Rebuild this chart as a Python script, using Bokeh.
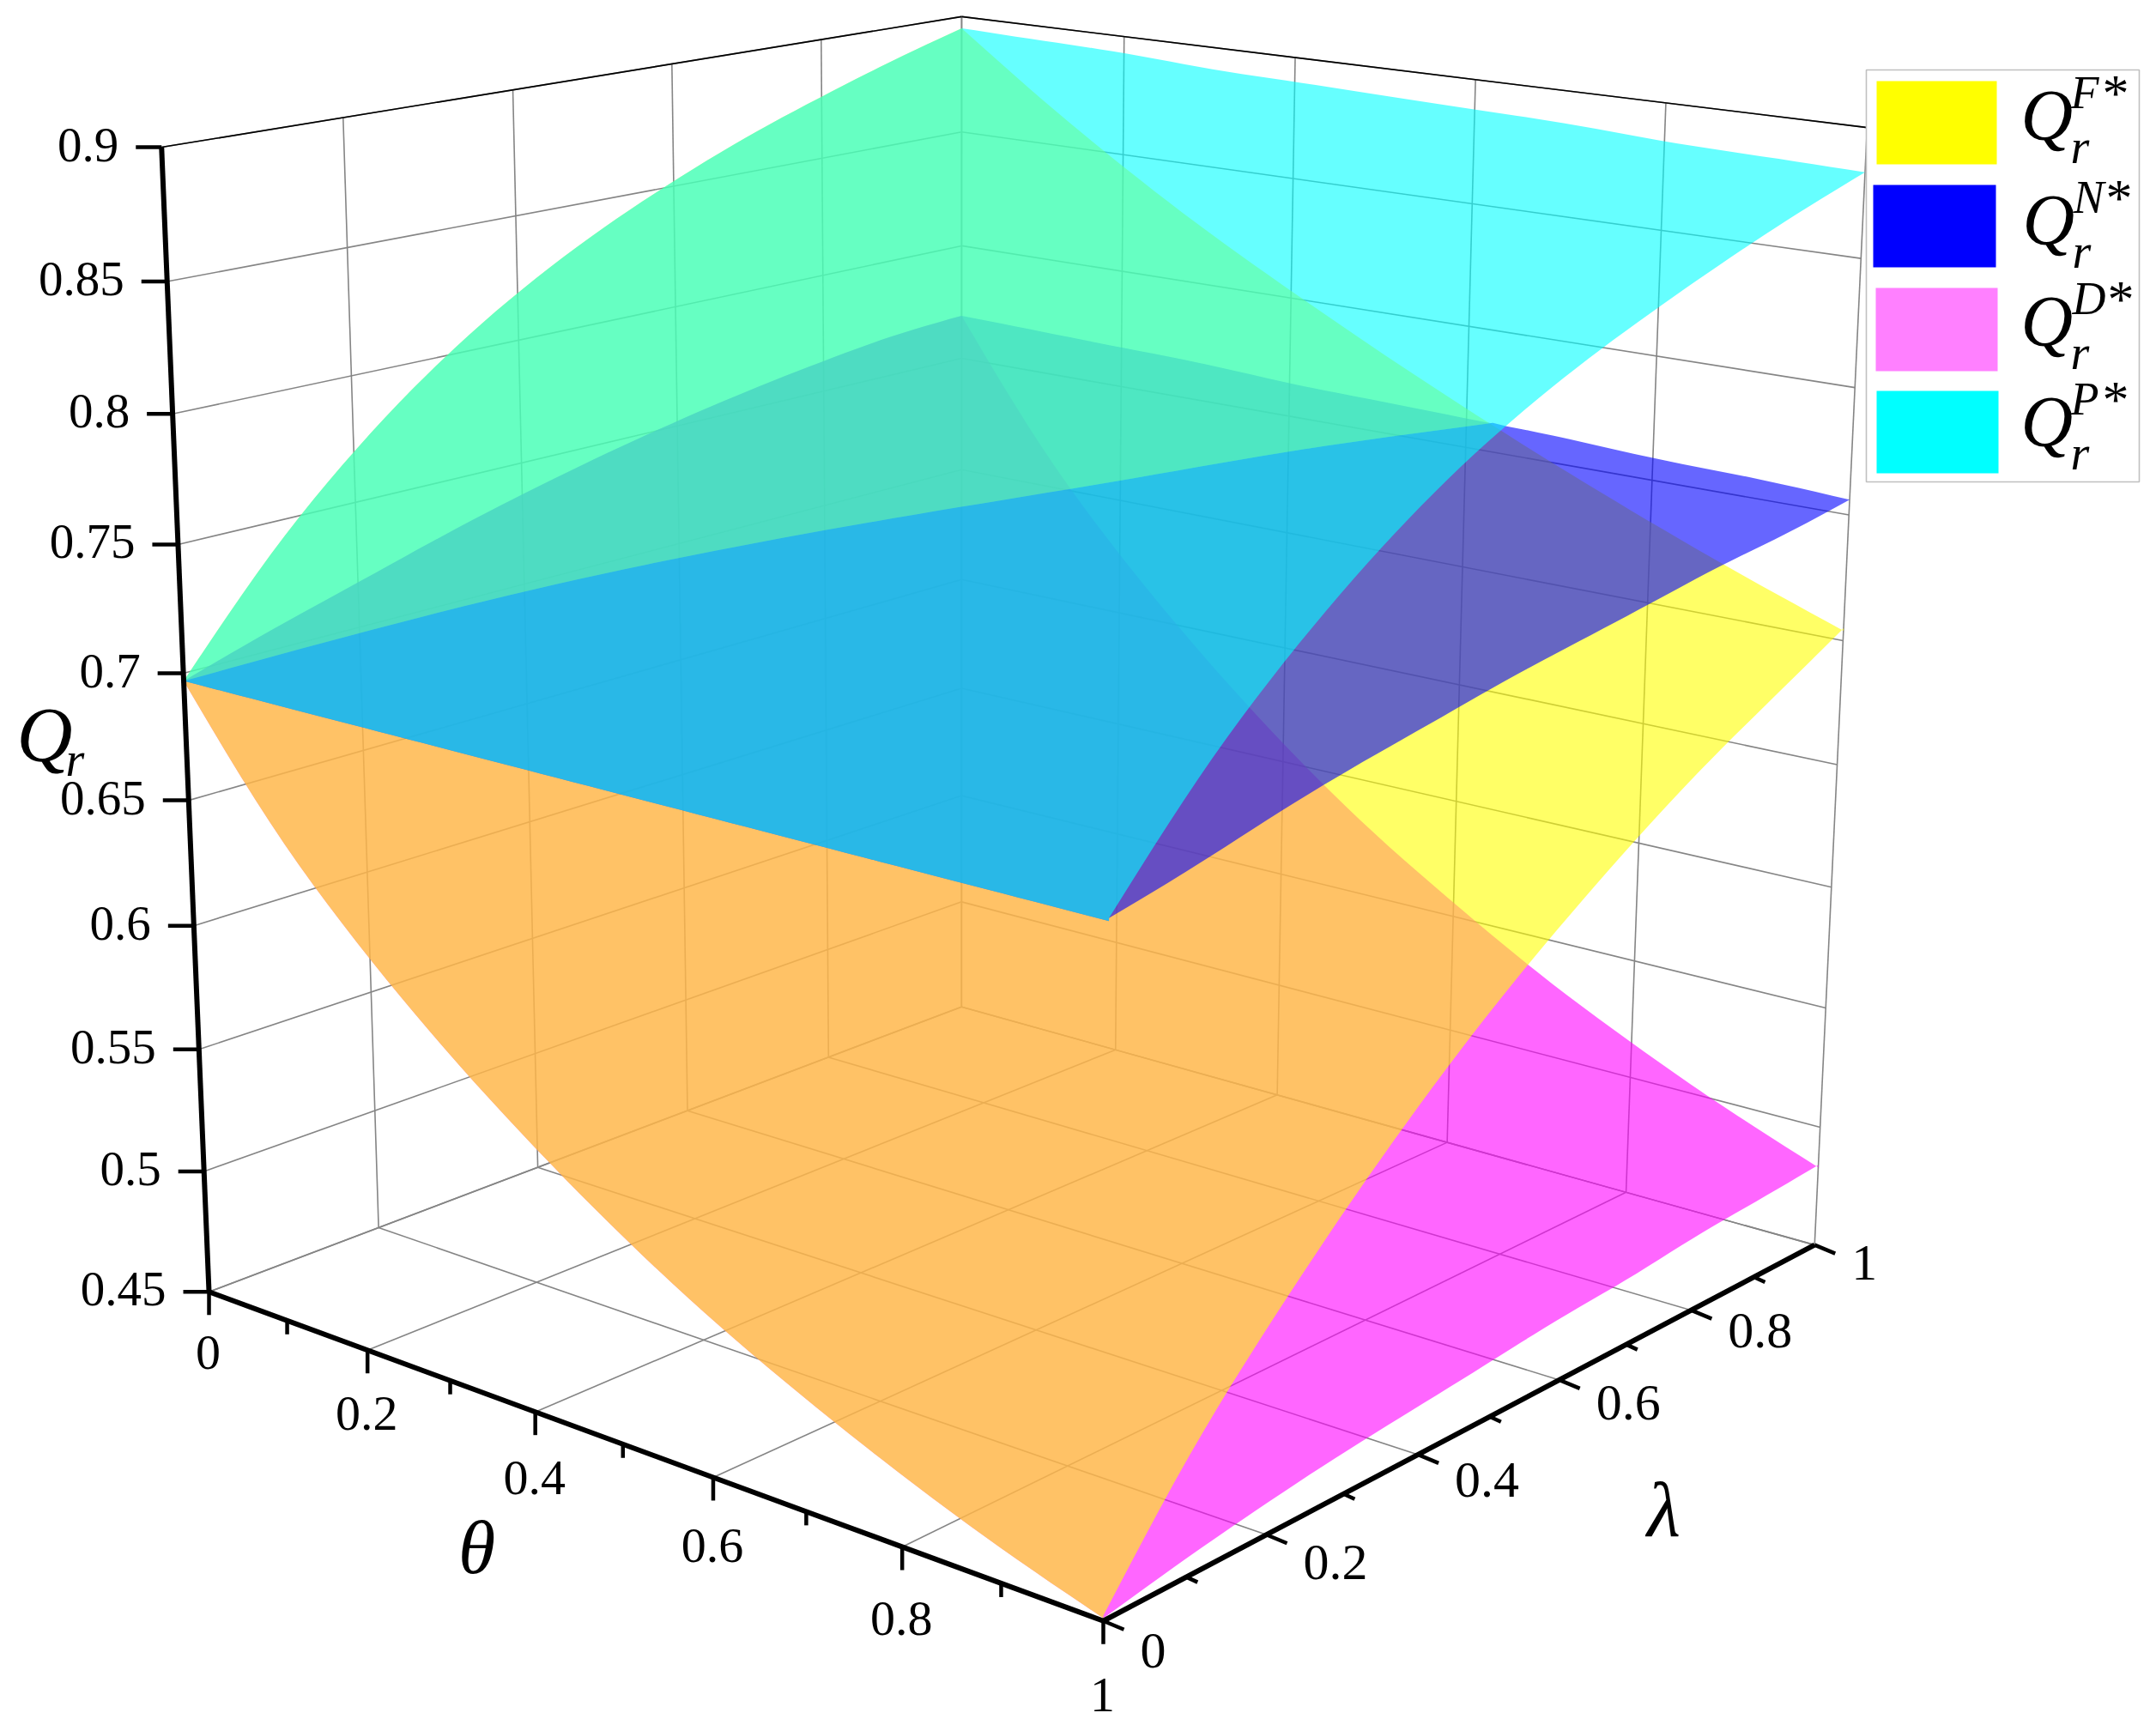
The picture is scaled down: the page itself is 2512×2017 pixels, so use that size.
import numpy as np
from bokeh.plotting import figure
from bokeh.models import Range1d, ColumnDataSource
from bokeh.core.properties import value
from bokeh.embed import file_html
from bokeh.resources import INLINE

# ---------- data ----------
edge_grid = [0, .1, .2, .3, .4, .5, .6, .7, .8, .9, 1]

# surface heights along the four edges of the (theta, lambda) square
F_lam0 = [.697, .651, .614, .583, .556, .532, .511, .493, .477, .463, .451]
F_th1 = [.452, .494, .529, .560, .588, .613, .635, .655, .673, .689, .705]
F_lam1 = [.895, .869, .845, .823, .803, .784, .766, .749, .733, .718, .704]
F_th0 = [.697, .737, .770, .797, .819, .837, .852, .865, .876, .886, .895]

D_lam0 = [.697, .651, .614, .583, .556, .532, .511, .493, .477, .463, .451]
D_th1 = [.451, .457, .462, .466, .469, .472, .475, .477, .480, .482, .484]
D_lam1 = [.769, .718, .676, .640, .608, .580, .556, .534, .515, .498, .483]
D_th0 = [.697, .708, .718, .728, .737, .745, .752, .758, .763, .767, .769]

N_lam0 = [.697, .697, .697, .697, .697, .697, .697, .697, .697, .697, .697]
N_th1 = [.698, .705, .713, .720, .726, .732, .737, .742, .747, .751, .756]
N_lam1 = [.769, .768, .767, .766, .764, .763, .762, .761, .759, .758, .756]
N_th0 = [.697, .708, .718, .728, .737, .745, .752, .758, .763, .767, .769]

P_lam0 = [.697, .697, .697, .697, .697, .697, .697, .697, .697, .697, .697]
P_th1 = [.698, .734, .764, .789, .810, .827, .841, .853, .864, .874, .883]
P_lam1 = [.895, .894, .893, .891, .890, .889, .888, .887, .885, .884, .883]
P_th0 = [.697, .737, .770, .797, .819, .837, .852, .865, .876, .886, .895]

# curve where the N and F surfaces cross, running to theta = cross_theta on lambda = 1
cross_theta = 0.629
cross_s = [0, .249, .578, .7, .834, 1]
cross_z = [.697, .722, .743, .749, .756, .762]

z_ticks = [.45, .5, .55, .6, .65, .7, .75, .8, .85, .9]
z_labels = ["0.45", "0.5", "0.55", "0.6", "0.65", "0.7", "0.75", "0.8", "0.85", "0.9"]
th_ticks = [0, .2, .4, .6, .8, 1]
th_labels = ["0", "0.2", "0.4", "0.6", "0.8", "1"]
lam_ticks = [0, .2, .4, .6, .8, 1]
lam_labels = ["0", "0.2", "0.4", "0.6", "0.8", "1"]
minor_ticks = [.1, .3, .5, .7, .9]
legend_names = ["F", "N", "D", "P"]
legend_colors = ["#ffff00", "#0000ff", "#ff80ff", "#00ffff"]

# ---------- camera ----------
CAM = np.array([[0.815715, 1.000777, -0.139339, 0.292098],
                [0.115349, -0.132166, -2.818926, 2.688914],
                [-0.13061, 0.154588, -0.124609, 1.0]])


def project(th, lam, z):
    th, lam, z = np.broadcast_arrays(np.asarray(th, float), np.asarray(lam, float), np.asarray(z, float))
    X = np.stack([th, lam, z, np.ones_like(th)])
    h = CAM @ X
    return h[0] / h[2] * 1000, h[1] / h[2] * 1000


def curve(s, y, n=60):
    """Draw a smooth line through the read values (natural cubic spline)."""
    s = np.asarray(s, float)
    y = np.asarray(y, float)
    k = len(s)
    h = np.diff(s)
    A = np.zeros((k, k))
    r = np.zeros(k)
    A[0, 0] = A[-1, -1] = 1
    for i in range(1, k - 1):
        A[i, i-1:i+2] = h[i-1], 2*(h[i-1] + h[i]), h[i]
        r[i] = 6*((y[i+1] - y[i])/h[i] - (y[i] - y[i-1])/h[i-1])
    m = np.linalg.solve(A, r)
    u = np.linspace(s[0], s[-1], n)
    j = np.clip(np.searchsorted(s, u) - 1, 0, k - 2)
    a = s[j+1] - u
    b = u - s[j]
    v = (m[j]*a**3 + m[j+1]*b**3)/(6*h[j]) + (y[j]/h[j] - m[j]*h[j]/6)*a + (y[j+1]/h[j] - m[j+1]*h[j]/6)*b
    return u, v


g = np.array(edge_grid)
ZMIN, ZMAX = z_ticks[0], z_ticks[-1]

p = figure(width=2496, height=2009, x_range=Range1d(0, 2496), y_range=Range1d(2009, 0),
           output_backend="svg", toolbar_location=None, min_border=0,
           background_fill_color="white", outline_line_color=None)
p.axis.visible = False
p.grid.visible = False

SERIF = value("Liberation Serif")


def seg(a, b, color, width):
    x0, y0 = project(*a)
    x1, y1 = project(*b)
    p.segment(np.atleast_1d(x0), np.atleast_1d(y0), np.atleast_1d(x1), np.atleast_1d(y1),
              line_color=color, line_width=width)


# ---------- grid on floor and back walls ----------
GRID = "#858585"
t = np.array(th_ticks)
l = np.array(lam_ticks)
z = np.array(z_ticks)
seg((t, 0*t, ZMIN), (t, 0*t+1, ZMIN), GRID, 1.6)       # floor, theta lines
seg((0*l, l, ZMIN), (0*l+1, l, ZMIN), GRID, 1.6)       # floor, lambda lines
seg((0*l, l, ZMIN), (0*l, l, ZMAX), GRID, 1.6)         # wall theta=0, verticals
seg((0*z, 0*z, z), (0*z, 0*z+1, z), GRID, 1.6)         # wall theta=0, horizontals
seg((t, 0*t+1, ZMIN), (t, 0*t+1, ZMAX), GRID, 1.6)     # wall lambda=1, verticals
seg((0*z, 0*z+1, z), (0*z+1, 0*z+1, z), GRID, 1.6)     # wall lambda=1, horizontals
seg((0, 0, ZMAX), (0, 1, ZMAX), "#000000", 1.6)
seg((0, 1, ZMAX), (1, 1, ZMAX), "#000000", 1.6)


# ---------- surfaces ----------
def edges(lam0, th1, lam1, th0):
    s, v = curve(g, lam0)
    a = project(s, 0*s, v)
    s, v = curve(g, th1)
    b = project(0*s+1, s, v)
    s, v = curve(g, lam1)
    c = project(s, 0*s+1, v)
    s, v = curve(g, th0)
    d = project(0*s, s, v)
    return a, b, c, d, s


def outline(lam0, th1, lam1, th0):
    a, b, c, d, _ = edges(lam0, th1, lam1, th0)
    return (np.concatenate([a[0], b[0], c[0][::-1], d[0][::-1]]),
            np.concatenate([a[1], b[1], c[1][::-1], d[1][::-1]]))


def fill(x, y, color):
    p.patch(x, y, fill_color=color, fill_alpha=0.6, line_color=None)


cs, cv = curve(cross_s, cross_z)
cross_xy = project(cs*cross_theta, cs, cv)

# the N surface, cut along its crossing with F
a, b, c, d, s = edges(N_lam0, N_th1, N_lam1, N_th0)
keep = s < cross_theta
n_back = (np.concatenate([d[0], c[0][keep], cross_xy[0][::-1]]),
          np.concatenate([d[1], c[1][keep], cross_xy[1][::-1]]))
n_front = (np.concatenate([a[0], b[0], c[0][~keep][::-1], cross_xy[0][::-1]]),
           np.concatenate([a[1], b[1], c[1][~keep][::-1], cross_xy[1][::-1]]))

fill(*outline(D_lam0, D_th1, D_lam1, D_th0), "#ff00ff")
fill(*n_back, "#0000ff")
fill(*outline(F_lam0, F_th1, F_lam1, F_th0), "#ffff00")
fill(*n_front, "#0000ff")
fill(*outline(P_lam0, P_th1, P_lam1, P_th0), "#00ffff")

# ---------- axes ----------
AXW = 6
TKW = 4.5
seg((0, 0, ZMIN), (0, 0, ZMAX), "#000000", AXW)
seg((0, 0, ZMIN), (1, 0, ZMIN), "#000000", AXW)
seg((1, 0, ZMIN), (1, 1, ZMIN), "#000000", AXW)

zx, zy = project(0*z, 0*z, z)
p.segment(zx, zy, zx - 30, zy, line_color="#000000", line_width=TKW)
p.text(zx - 50, zy - 3, text=z_labels, text_font=SERIF, text_font_size="57px", text_color="#000000",
       text_align="right", text_baseline="middle")

tx, ty = project(t, 0*t, ZMIN)
p.segment(tx, ty, tx, ty + 27, line_color="#000000", line_width=TKW)
p.text(tx - 1, ty + 71 + 15*t, text=th_labels, text_font=SERIF, text_font_size="58px", text_color="#000000",
       text_align="center", text_baseline="middle")

m = np.array(minor_ticks)
mx, my = project(m, 0*m, ZMIN)
p.segment(mx, my, mx, my + 16, line_color="#000000", line_width=TKW)

lx, ly = project(0*l + 1, l, ZMIN)
p.segment(lx, ly, lx + 24, ly + 10, line_color="#000000", line_width=TKW)
p.text(lx + 43, ly + 35 - 14*l, text=lam_labels, text_font=SERIF, text_font_size="60px", text_color="#000000",
       text_align="left", text_baseline="middle")
mx, my = project(0*m + 1, m, ZMIN)
p.segment(mx, my, mx + 13, my + 6, line_color="#000000", line_width=TKW)

# ---------- axis titles ----------
p.text([19], [856], text=["Q"], text_font=SERIF, text_font_style="italic", text_font_size="90px",
       text_baseline="middle", text_align="left", text_color="#000000")
p.text([76], [884], text=["r"], text_font=SERIF, text_font_style="italic", text_font_size="56px",
       text_baseline="middle", text_align="left", text_color="#000000")
p.text([555], [1803], text=["θ"], text_font=SERIF, text_font_style="italic", text_font_size="88px",
       text_baseline="middle", text_align="center", text_color="#000000")
p.text([1938], [1759], text=["λ"], text_font=SERIF, text_font_style="italic", text_font_size="90px",
       text_baseline="middle", text_align="center", text_color="#000000")

# ---------- legend ----------
p.quad(left=[2174], right=[2492], top=[81], bottom=[561], fill_color="white",
       line_color="#c0c0c0", line_width=1.6)
sw = ColumnDataSource(dict(left=[2186, 2182, 2185, 2186], right=[2326, 2325, 2327, 2328],
                           top=[94, 215, 335, 455], bottom=[191, 311, 432, 551], color=legend_colors))
p.quad(left="left", right="right", top="top", bottom="bottom", fill_color="color", line_color=None, source=sw)

q_x = [2354, 2356, 2354, 2354]
q_y = [134, 256, 374, 491]
sup_x = [2412, 2415, 2414, 2412]
star_x = [2449, 2453, 2455, 2449]
p.text(q_x, q_y, text=["Q"]*4, text_font=SERIF, text_font_style="italic", text_font_size="84px",
       text_baseline="middle", text_color="#000000")
p.text([x + 58 for x in q_x], [y + 36 for y in q_y], text=["r"]*4, text_font=SERIF, text_font_style="italic",
       text_font_size="56px", text_baseline="middle", text_color="#000000")
p.text(sup_x, [y - 27 for y in q_y], text=legend_names, text_font=SERIF, text_font_style="italic",
       text_font_size="54px", text_baseline="middle", text_color="#000000")
p.text(star_x, [y - 27 for y in q_y], text=["*"]*4, text_font=SERIF,
       text_font_size="62px", text_baseline="middle", text_color="#000000")

open("out.html", "w").write(file_html(p, INLINE))
